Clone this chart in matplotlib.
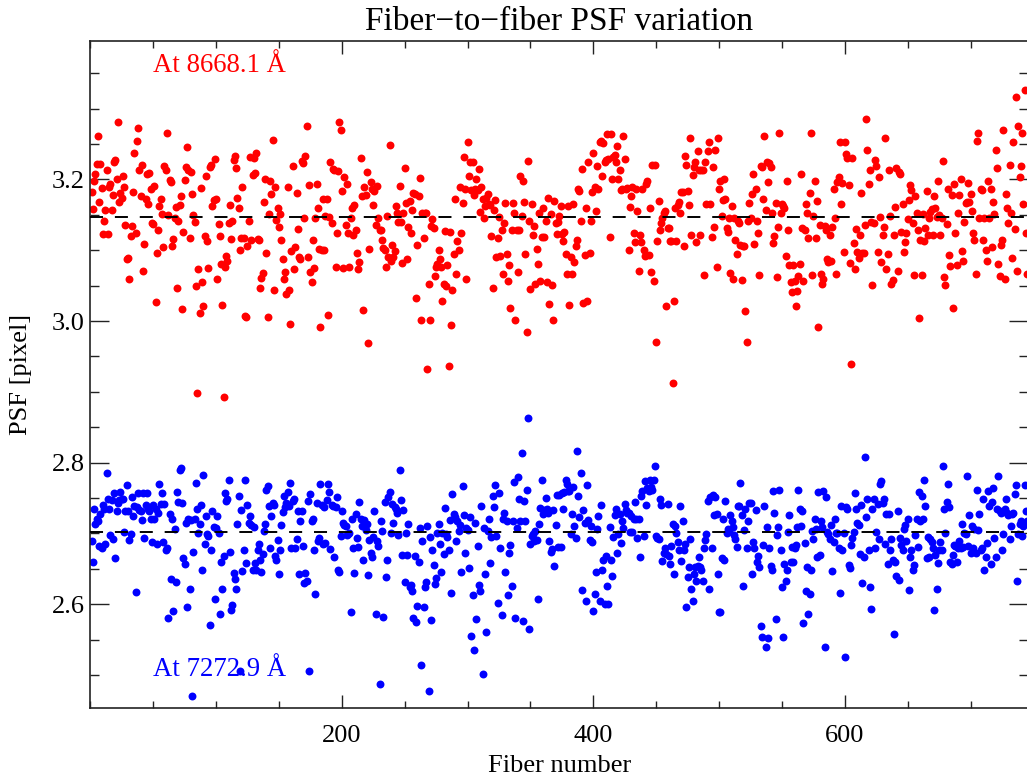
import numpy as np
import matplotlib.pyplot as plt
from matplotlib.ticker import MultipleLocator, FormatStrFormatter

plt.rcParams['font.family'] = ['Liberation Serif', 'DejaVu Serif']

# PSF width per fiber at 8668.1 A (red) and 7272.9 A (blue), fibers 1..745
red_psf = [
    # fibers 1-185
    3.182, 3.158, 3.198, 3.207, 3.222, 3.262, 3.168, 3.222, 3.188, 3.123,
    3.141, 3.157, 3.213, 3.123, 3.190, 3.193, 3.157, 3.178, 3.225, 3.227,
    3.200,
    3.281, 3.168, 3.181, 3.174, 3.205, 3.190, 3.136, 3.088, 3.089, 3.059,
    3.120, 3.134, 3.182, 3.237, 3.125, 3.254, 3.273, 3.214, 3.177, 3.220,
    3.070, 3.109, 3.173, 3.207, 3.166, 3.209, 3.186, 3.138, 3.137, 3.191,
    3.027, 3.096, 3.129, 3.163, 3.172, 3.151, 3.104, 3.219, 3.214, 3.266,
    3.150,
    3.199, 3.197, 3.106, 3.116, 3.146, 3.161, 3.046, 3.142, 3.164, 3.177,
    3.017, 3.126, 3.199, 3.217, 3.246, 3.213, 3.118, 3.210, 3.179, 3.150,
    3.140, 3.050, 2.899, 3.074, 3.011, 3.188, 3.055, 3.021, 3.120, 3.205,
    3.113, 3.075, 3.217, 3.221, 3.162, 3.171, 3.229, 3.172, 3.059, 3.137,
    3.120,
    3.081, 3.022, 2.892, 3.076, 3.092, 3.085, 3.139, 3.164, 3.116, 3.141,
    3.227, 3.233, 3.216, 3.174, 3.159, 3.100, 3.118, 3.189, 3.117, 3.007,
    3.006, 3.106, 3.141, 3.232, 3.114, 3.206, 3.230, 3.209, 3.237, 3.116,
    3.114, 3.047, 3.061, 3.068, 3.168, 3.200, 3.096, 3.006, 3.151, 3.198,
    3.180,
    3.256, 3.044, 3.190, 3.143, 3.160, 3.133, 3.151, 3.114, 3.087, 3.059,
    3.069, 3.038, 3.190, 3.044, 2.996, 3.099, 3.219, 3.073, 3.105, 3.181,
    3.130,
    3.090, 3.087, 3.226, 3.223, 3.146, 3.233, 3.276, 3.090, 3.192, 3.069,
    3.055, 3.115, 3.075, 3.145, 3.193, 3.160, 3.102, 2.991, 3.100, 3.173,
    # fibers 186-372
    3.101, 3.149, 3.172, 3.008, 3.147, 3.224, 3.139, 3.215, 3.213, 3.077,
    3.124, 3.212, 3.281, 3.270, 3.184, 3.075, 3.204, 3.135, 3.193, 3.125,
    3.076, 3.145, 3.159, 3.122, 3.164, 3.129, 3.096, 3.074, 3.084, 3.231,
    3.176, 3.015, 3.190, 3.178, 3.211, 2.969, 3.102, 3.197, 3.186, 3.164,
    3.184, 3.135, 3.191, 3.145, 3.129, 3.129, 3.115, 3.103, 3.101, 3.076,
    3.148, 3.091, 3.249, 3.085, 3.108, 3.091, 3.099, 3.162, 3.152, 3.140,
    3.191, 3.140, 3.082, 3.153, 3.216, 3.167, 3.088, 3.133, 3.170, 3.125,
    3.157, 3.181, 3.179, 3.032, 3.108, 3.176, 3.202, 3.001, 3.152, 3.117,
    3.153, 3.152, 2.932, 3.052, 3.001, 3.134, 3.144, 3.131, 3.063, 3.076,
    3.080, 3.100, 3.087, 3.076, 3.028, 3.052, 3.127, 3.050, 3.079, 2.937,
    3.126, 2.994, 3.044, 3.095, 3.172, 3.066, 3.113, 3.101, 3.189, 3.125,
    3.167, 3.232, 3.186, 3.059, 3.253, 3.205, 3.225, 3.185, 3.225, 3.178,
    3.186, 3.200, 3.185, 3.215, 3.154, 3.189, 3.172, 3.145, 3.162, 3.174,
    3.180, 3.166, 3.164, 3.120, 3.047, 3.157, 3.171, 3.090, 3.118, 3.147,
    3.092, 3.128, 3.067, 3.139, 3.167, 3.094, 3.057, 3.079, 3.018, 3.128,
    3.167, 3.153, 3.001, 3.128, 3.069, 3.128, 3.205, 3.149, 3.198, 3.168,
    3.094, 2.984, 3.226, 3.142, 3.045, 3.165, 3.121, 3.134, 3.052, 3.102,
    3.080, 3.153, 3.057, 3.119, 3.160, 3.119, 3.141, 3.055, 3.174, 3.024,
    3.151, 3.051, 3.001, 3.170, 3.139, 3.123, 3.140,
    # fibers 373-558
    3.149, 3.163, 3.123, 3.113, 3.126, 3.095, 3.066, 3.162, 3.022,
    3.091, 3.066, 3.165, 3.084, 3.106, 3.115, 3.186, 3.184, 3.141, 3.215,
    3.025, 3.093, 3.159, 3.028, 3.225, 3.096, 3.141, 3.182, 3.237, 3.189,
    3.156, 3.219, 3.187, 3.253, 3.255, 3.205, 3.251, 3.225, 3.227, 3.264,
    3.229, 3.119, 3.264, 3.200, 3.232, 3.234, 3.225, 3.247, 3.200, 3.213,
    3.185, 3.186, 3.262, 3.229, 3.187, 3.188, 3.100, 3.161, 3.176, 3.190,
    3.125, 3.112, 3.187, 3.156, 3.071, 3.121, 3.112, 3.187, 3.100, 3.092,
    3.193, 3.198, 3.093, 3.159, 3.069, 3.220, 3.057, 3.221, 2.971, 3.113,
    3.170, 3.128, 3.139, 3.146, 3.153, 3.156, 3.021, 3.132, 3.131, 3.113,
    3.113, 2.912, 3.028, 3.159, 3.113, 3.164, 3.168, 3.153, 3.182, 3.182,
    3.106, 3.233, 3.221, 3.184, 3.164, 3.258, 3.121, 3.206, 3.217, 3.225,
    3.112, 3.240, 3.213, 3.121, 3.213, 3.214, 3.065, 3.225, 3.165, 3.240,
    3.253, 3.165, 3.119, 3.217, 3.133, 3.241, 3.076, 3.259, 3.186, 3.198,
    3.148, 3.171, 3.201, 3.172, 3.131, 3.126, 3.145, 3.068, 3.162, 3.060,
    3.145, 3.115, 3.095, 3.141, 3.139, 3.107, 3.058, 3.106, 3.106, 3.014,
    2.971,
    3.141, 3.167, 3.145, 3.179, 3.208, 3.109, 3.186, 3.141, 3.125,
    3.065, 3.219, 3.217, 3.172, 3.262, 3.157, 3.225, 3.197, 3.223, 3.217,
    3.153, 3.110, 3.120, 3.167, 3.062, 3.133, 3.266, 3.153, 3.165, 3.162,
    3.159, 3.092, 3.198, 3.129, 3.079, 3.055, 3.041,
    # fibers 559-745
    3.079, 3.056, 3.021, 3.042, 3.063, 3.081, 3.207, 3.131, 3.057, 3.129,
    3.165, 3.152, 3.117, 3.181, 3.265, 3.065, 3.148, 3.198, 3.118, 3.169,
    2.992, 3.136, 3.066, 3.052, 3.060, 3.134, 3.129, 3.087, 3.084, 3.121,
    3.085, 3.133, 3.186, 3.145, 3.066, 3.197, 3.204, 3.253, 3.165, 3.195,
    3.097, 3.253, 3.236, 3.230, 3.192, 3.082, 2.939, 3.231, 3.110, 3.073,
    3.130, 3.098, 3.089, 3.121, 3.181, 3.096, 3.096, 3.136, 3.285, 3.242,
    3.193, 3.214, 3.140, 3.051, 3.139, 3.227, 3.219, 3.097, 3.204, 3.147,
    3.084, 3.121, 3.133, 3.258, 3.073, 3.095, 3.213, 3.148, 3.053, 3.058,
    3.121, 3.161, 3.216, 3.070, 3.211, 3.208, 3.126, 3.165, 3.097, 3.111,
    3.125, 3.144, 3.171, 3.192, 3.185, 3.139, 3.065, 3.177, 3.153, 3.128,
    3.004, 3.114, 3.065, 3.151, 3.113, 3.131, 3.184, 3.121, 3.145, 3.154,
    3.158, 3.121, 3.177, 3.159, 3.147, 3.198, 3.150, 3.121, 3.145, 3.226,
    3.062, 3.051, 3.137, 3.187, 3.093, 3.078, 3.178, 3.019, 3.194, 3.125,
    3.079, 3.153, 3.178, 3.200, 3.099, 3.085, 3.140, 3.167, 3.168, 3.195,
    3.168, 3.180, 3.156, 3.125, 3.114, 3.066, 3.255, 3.265, 3.145, 3.187,
    3.185, 3.114, 3.146, 3.100, 3.085, 3.198, 3.146, 3.187, 3.104, 3.168,
    3.151, 3.242, 3.216, 3.081, 3.063, 3.107, 3.114, 3.270, 3.060, 3.179,
    3.160, 3.139, 3.220, 3.152, 3.089, 3.253, 3.130, 3.316, 3.070, 3.275,
    3.204, 3.219, 3.265, 3.165, 3.326, 3.125, 3.066,
]

blue_psf = [
    # fibers 1-185
    2.690, 2.659, 2.734, 2.714, 2.720, 2.718, 2.682, 2.727, 2.679, 2.740,
    2.734, 2.685, 2.786, 2.748, 2.734, 2.698, 2.747, 2.692, 2.757, 2.665,
    2.731, 2.743, 2.747, 2.759, 2.748, 2.749, 2.702, 2.732, 2.768, 2.732,
    2.691, 2.699, 2.752, 2.724, 2.739, 2.617, 2.737, 2.757, 2.733, 2.732,
    2.719, 2.757, 2.693, 2.740, 2.757, 2.734, 2.731, 2.720, 2.688, 2.740,
    2.720,
    2.734, 2.685, 2.729, 2.770, 2.741, 2.757, 2.688, 2.741, 2.677, 2.680,
    2.580, 2.728, 2.636, 2.720, 2.591, 2.706, 2.632, 2.759, 2.745, 2.790,
    2.792, 2.743, 2.665, 2.657, 2.715, 2.596, 2.721, 2.622, 2.719, 2.470,
    2.674, 2.720, 2.771, 2.735, 2.701, 2.713, 2.740, 2.648, 2.782, 2.685,
    2.725, 2.699, 2.696, 2.571, 2.677, 2.731, 2.709, 2.608, 2.707, 2.725,
    2.700,
    2.586, 2.660, 2.622, 2.668, 2.757, 2.746, 2.748, 2.775, 2.674, 2.592,
    2.599, 2.644, 2.636, 2.622, 2.713, 2.753, 2.505, 2.733, 2.647, 2.676,
    2.776, 2.658, 2.740, 2.715, 2.725, 2.712, 2.648, 2.709, 2.658, 2.648,
    2.677, 2.685, 2.663, 2.646, 2.671, 2.704, 2.713, 2.762, 2.767, 2.739,
    2.680, 2.725, 2.743, 2.740, 2.668, 2.663, 2.691, 2.643, 2.676, 2.712,
    2.730,
    2.753, 2.737, 2.743, 2.759, 2.739, 2.771, 2.680, 2.746, 2.749, 2.680,
    2.692, 2.731, 2.643, 2.717, 2.731, 2.682, 2.630, 2.644, 2.633, 2.746,
    2.506, 2.756, 2.718, 2.721, 2.676, 2.615, 2.743, 2.690, 2.694, 2.770,
    2.740, 2.685,
    # fibers 186-372
    2.737, 2.687, 2.747, 2.770, 2.759, 2.678, 2.740, 2.739, 2.666,
    2.737, 2.751, 2.648, 2.646, 2.696, 2.731, 2.715, 2.712, 2.710, 2.698,
    2.699, 2.700, 2.589, 2.720, 2.679, 2.644, 2.728, 2.693, 2.681, 2.745,
    2.720, 2.710, 2.663, 2.719, 2.705, 2.714, 2.641, 2.691, 2.672, 2.666,
    2.695, 2.731, 2.586, 2.690, 2.682, 2.487, 2.717, 2.704, 2.582, 2.745,
    2.639, 2.663, 2.751, 2.759, 2.701, 2.742, 2.715, 2.738, 2.734, 2.729,
    2.698, 2.789, 2.747, 2.670, 2.733, 2.631, 2.701, 2.670, 2.713, 2.625,
    2.627, 2.619, 2.580, 2.668, 2.575, 2.597, 2.659, 2.707, 2.514, 2.689,
    2.596, 2.624, 2.632, 2.711, 2.477, 2.695, 2.578, 2.676, 2.656, 2.629,
    2.637, 2.701, 2.714, 2.685, 2.645, 2.701, 2.671, 2.736, 2.699, 2.695,
    2.676, 2.719, 2.616, 2.756, 2.728, 2.723, 2.689, 2.718, 2.704, 2.712,
    2.646, 2.767, 2.726, 2.672, 2.707, 2.705, 2.651, 2.723, 2.555, 2.613,
    2.536, 2.715, 2.579, 2.682, 2.627, 2.618, 2.739, 2.502, 2.707, 2.643,
    2.561, 2.704, 2.720, 2.658, 2.695, 2.753, 2.737, 2.769, 2.697, 2.602,
    2.757, 2.679, 2.585, 2.721, 2.729, 2.645, 2.718, 2.613, 2.672, 2.684,
    2.626, 2.718, 2.773, 2.580, 2.707, 2.779, 2.748, 2.718, 2.813, 2.577,
    2.746, 2.718, 2.761, 2.863, 2.565, 2.685, 2.696, 2.699, 2.689, 2.704,
    2.691, 2.607, 2.714, 2.736, 2.776, 2.728, 2.733, 2.750, 2.734, 2.729,
    2.689, 2.674, 2.678, 2.733, 2.654, 2.712, 2.754, 2.681,
    # fibers 373-558
    2.754, 2.681, 2.757, 2.734, 2.759, 2.776, 2.770, 2.760, 2.760,
    2.699, 2.727, 2.765, 2.710, 2.693, 2.817, 2.753, 2.723, 2.785, 2.620,
    2.733, 2.715, 2.605, 2.768, 2.719, 2.691, 2.710, 2.688, 2.591, 2.615,
    2.646, 2.706, 2.725, 2.604, 2.740, 2.648, 2.662, 2.600, 2.668, 2.626,
    2.600, 2.709, 2.663, 2.640, 2.695, 2.726, 2.735, 2.673, 2.699, 2.727,
    2.687, 2.718, 2.707, 2.741, 2.733, 2.729, 2.729, 2.702, 2.725, 2.702,
    2.721, 2.745, 2.720, 2.694, 2.721, 2.667, 2.753, 2.760, 2.696, 2.774,
    2.740, 2.764, 2.760, 2.776, 2.765, 2.761, 2.776, 2.795, 2.696, 2.694,
    2.692, 2.748, 2.740, 2.661, 2.673, 2.679, 2.671, 2.742, 2.668, 2.657,
    2.682, 2.714, 2.643, 2.710, 2.701, 2.688, 2.677, 2.739, 2.661, 2.718,
    2.677, 2.685, 2.596, 2.638, 2.652, 2.692, 2.621, 2.604, 2.643, 2.652,
    2.633, 2.654, 2.666, 2.652, 2.648, 2.633, 2.679, 2.691, 2.699, 2.746,
    2.622, 2.751, 2.679, 2.754, 2.726, 2.751, 2.728, 2.643, 2.589, 2.589,
    2.665, 2.721, 2.662, 2.746, 2.701, 2.706, 2.704, 2.726, 2.718, 2.709,
    2.698, 2.692, 2.681, 2.739, 2.739, 2.771, 2.726, 2.626, 2.705, 2.734,
    2.680, 2.717, 2.743, 2.743, 2.643, 2.688, 2.679, 2.733, 2.659, 2.668,
    2.652, 2.569, 2.554, 2.684, 2.739, 2.540, 2.709, 2.552, 2.679, 2.654,
    2.648, 2.760, 2.729, 2.579, 2.698, 2.709, 2.761, 2.676, 2.624, 2.554,
    2.657, 2.633, 2.649, 2.702, 2.726, 2.660, 2.681,
    # fibers 559-745
    2.660, 2.680, 2.684, 2.709, 2.761, 2.734, 2.710, 2.732, 2.573, 2.687,
    2.618, 2.652, 2.586, 2.615, 2.648, 2.704, 2.692, 2.720, 2.706, 2.666,
    2.759, 2.669, 2.717, 2.709, 2.760, 2.539, 2.752, 2.702, 2.699, 2.692,
    2.712, 2.647, 2.688, 2.720, 2.701, 2.700, 2.679, 2.616, 2.739, 2.677,
    2.700,
    2.525, 2.737, 2.734, 2.655, 2.651, 2.684, 2.694, 2.702, 2.757, 2.735,
    2.715, 2.712, 2.671, 2.740, 2.630, 2.666, 2.808, 2.723, 2.749, 2.677,
    2.624, 2.593, 2.735, 2.749, 2.680, 2.702, 2.741, 2.692, 2.770, 2.774,
    2.743, 2.748, 2.685, 2.727, 2.657, 2.728, 2.676, 2.692, 2.662, 2.558,
    2.660, 2.640, 2.732, 2.634, 2.693, 2.684, 2.676, 2.706, 2.712, 2.690,
    2.720,
    2.620, 2.666, 2.677, 2.648, 2.655, 2.698, 2.720, 2.681, 2.759, 2.718,
    2.753, 2.720, 2.776, 2.739, 2.665, 2.695, 2.667, 2.692, 2.688, 2.680,
    2.592, 2.669, 2.622, 2.658, 2.677, 2.688, 2.676, 2.795, 2.734, 2.701,
    2.745, 2.770, 2.738, 2.660, 2.657, 2.669, 2.684, 2.682, 2.659, 2.680,
    2.690,
    2.679, 2.713, 2.681, 2.700, 2.699, 2.781, 2.682, 2.726, 2.673, 2.710,
    2.679, 2.706, 2.673, 2.761, 2.705, 2.727, 2.677, 2.679, 2.749, 2.648,
    2.666, 2.687, 2.760, 2.739, 2.657, 2.745, 2.764, 2.693, 2.667, 2.735,
    2.781, 2.731, 2.729, 2.676, 2.699, 2.734, 2.749, 2.729, 2.726, 2.692,
    2.710,
    2.727, 2.729, 2.756, 2.768, 2.633, 2.699, 2.714, 2.717, 2.696, 2.710,
    2.768, 2.732, 2.718,
]

red_level = 3.1465
blue_level = 2.7025
red_label = 'At 8668.1 Å'
blue_label = 'At 7272.9 Å'
x_major = [200, 400, 600]
y_major = [2.6, 2.8, 3.0, 3.2]

fiber_red = np.arange(1, len(red_psf) + 1)
fiber_blue = np.arange(1, len(blue_psf) + 1)

fig = plt.figure(figsize=(10.27, 7.78), dpi=100)
ax = fig.add_axes([0.0879, 0.0896, 0.9135, 0.8581])

ax.plot(fiber_red, red_psf, 'o', color='#ff0000', ms=5.7, mew=0, zorder=2)
ax.plot(fiber_blue, blue_psf, 'o', color='#0000ff', ms=5.7, mew=0, zorder=2)

# mean levels
ax.axhline(red_level, color='black', lw=1.4, dashes=(6.7, 6.1), zorder=3)
ax.axhline(blue_level, color='black', lw=1.4, dashes=(6.7, 6.1), zorder=3)

ax.text(0.067, 0.963, red_label, transform=ax.transAxes, color='#ff0000',
        fontsize=19.3, va='center', ha='left')
ax.text(0.067, 0.058, blue_label, transform=ax.transAxes, color='#0000ff',
        fontsize=19.3, va='center', ha='left')

ax.set_xlim(0, 746)
ax.set_ylim(2.453, 3.396)
ax.set_xticks(x_major)
ax.set_yticks(y_major)
ax.xaxis.set_minor_locator(MultipleLocator(50))
ax.yaxis.set_minor_locator(MultipleLocator(0.05))
ax.yaxis.set_major_formatter(FormatStrFormatter('%.1f'))

ax.tick_params(which='both', direction='in', top=True, right=True,
               labelsize=19, width=1.0, colors='#222222', labelcolor='black')
ax.tick_params(axis='x', which='major', length=9.4, pad=12)
ax.tick_params(axis='x', which='minor', length=4.8)
ax.tick_params(axis='y', which='major', length=13.7, pad=4)
ax.tick_params(axis='y', which='minor', length=6.5)
for s in ax.spines.values():
    s.set_linewidth(1.2)
    s.set_color('#222222')

ax.set_title('Fiber\u2212to\u2212fiber PSF variation', fontsize=24, pad=8)
ax.set_xlabel('Fiber number', fontsize=19, labelpad=6)
ax.set_ylabel('PSF [pixel]', fontsize=19, labelpad=14)

fig.savefig('out.png', dpi=100)
